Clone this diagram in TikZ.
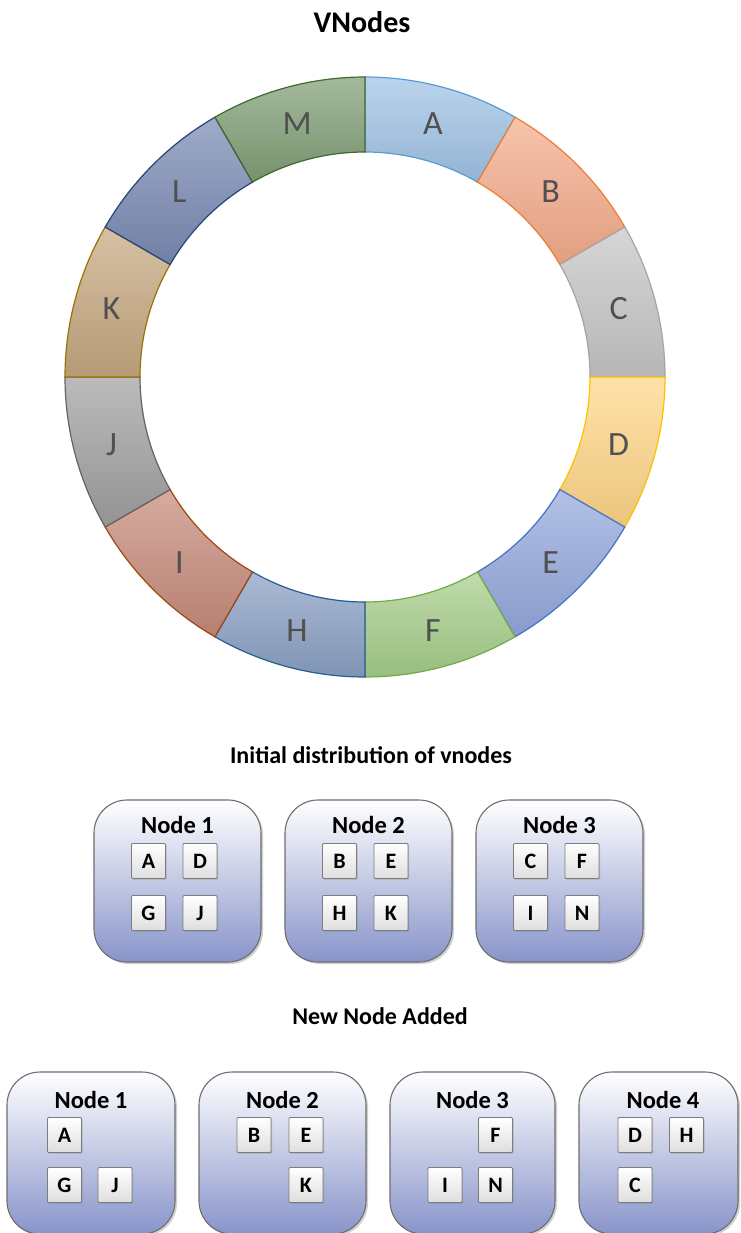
\documentclass[tikz,border=0pt]{standalone}
\usepackage{fontspec}
\setmainfont{Carlito}
\usetikzlibrary{shadows}
\definecolor{fillA}{RGB}{160,195,230}\definecolor{lineA}{RGB}{91,155,213}
\definecolor{fillB}{RGB}{245,172,140}\definecolor{lineB}{RGB}{237,125,49}
\definecolor{fillC}{RGB}{198,198,198}\definecolor{lineC}{RGB}{165,165,165}
\definecolor{fillD}{RGB}{255,214,135}\definecolor{lineD}{RGB}{255,192,0}
\definecolor{fillE}{RGB}{148,168,220}\definecolor{lineE}{RGB}{68,114,196}
\definecolor{fillF}{RGB}{166,206,138}\definecolor{lineF}{RGB}{112,173,71}
\definecolor{fillH}{RGB}{138,160,196}\definecolor{lineH}{RGB}{37,94,145}
\definecolor{fillI}{RGB}{198,138,122}\definecolor{lineI}{RGB}{158,72,14}
\definecolor{fillJ}{RGB}{160,160,160}\definecolor{lineJ}{RGB}{99,99,99}
\definecolor{fillK}{RGB}{198,168,128}\definecolor{lineK}{RGB}{153,115,0}
\definecolor{fillL}{RGB}{122,138,180}\definecolor{lineL}{RGB}{38,68,120}
\definecolor{fillM}{RGB}{128,158,118}\definecolor{lineM}{RGB}{67,104,43}
\definecolor{seglab}{RGB}{80,80,80}
\definecolor{boxblue}{RGB}{136,148,202}
\definecolor{boxmid}{RGB}{212,216,236}
\definecolor{boxline}{RGB}{110,110,110}
\definecolor{vline}{RGB}{125,125,125}
\definecolor{vbot}{RGB}{222,222,222}
\tikzset{
  seglabel/.style={text=seglab, font=\fontsize{34}{34}\selectfont},
  heading/.style={font=\bfseries\fontsize{24}{24}\selectfont, text=black},
  maintitle/.style={font=\bfseries\fontsize{30}{30}\selectfont, text=black},
  bigbox/.style={draw=boxline, line width=1.1pt, rounded corners=33pt,
    top color=white, middle color=boxmid, bottom color=boxblue,
    minimum height=162pt, inner sep=0pt,
    drop shadow={shadow xshift=2pt, shadow yshift=-2pt, opacity=0.3, fill=black!60}},
  ntitle/.style={font=\bfseries\fontsize{24.5}{24.5}\selectfont, text=black},
  vbox/.style={draw=vline, line width=0.9pt, rounded corners=1pt,
    top color=white, bottom color=vbot, minimum width=34pt, minimum height=35pt,
    inner sep=0pt, font=\bfseries\fontsize{22}{22}\selectfont,
    drop shadow={shadow xshift=1.2pt, shadow yshift=-1.2pt, opacity=0.3, fill=black!60}}
}
\begin{document}
\begin{tikzpicture}[x=1pt,y=-1pt]
\useasboundingbox (0,0) rectangle (740,1233);
\fill[white] (0,0) rectangle (740,1233);

\node[maintitle] (title) at (362,22) {VNodes};

\begin{scope}[shift={(365,377)}, y=1pt]
\foreach \a/\lab in {90/A,60/B,30/C,0/D,-30/E,-60/F,-90/H,-120/I,-150/J,180/K,150/L,120/M} {
  \pgfmathsetmacro\b{\a-30}
  \pgfmathsetmacro\m{\a-15}
  \draw[draw=line\lab, line width=1.2pt, top color=fill\lab!72!white, bottom color=fill\lab!92!black]
    (\a:300) arc[start angle=\a, end angle=\b, radius=300]
    -- (\b:225) arc[start angle=\b, end angle=\a, radius=225] -- cycle;
  \node[seglabel] (seg\lab) at (\m:262.5) {\lab};
}
\end{scope}

\node[heading] (initial) at (371,755) {Initial distribution of vnodes};

% Row 1
\node[bigbox, minimum width=167pt] (r1n1) at (177.5,881) {};
\node[bigbox, minimum width=167pt] (r1n2) at (368.5,881) {};
\node[bigbox, minimum width=167pt] (r1n3) at (559.5,881) {};
\node[ntitle] (r1t1) at (177.5,825) {Node 1};
\node[ntitle] (r1t2) at (368.5,825) {Node 2};
\node[ntitle] (r1t3) at (559.5,825) {Node 3};
\node[vbox] (r1A) at (148.5,861) {A};
\node[vbox] (r1D) at (200,861) {D};
\node[vbox] (r1G) at (148.5,913) {G};
\node[vbox] (r1J) at (200,913) {J};
\node[vbox] (r1B) at (339.5,861) {B};
\node[vbox] (r1E) at (391,861) {E};
\node[vbox] (r1H) at (339.5,913) {H};
\node[vbox] (r1K) at (391,913) {K};
\node[vbox] (r1C) at (530.5,861) {C};
\node[vbox] (r1F) at (582,861) {F};
\node[vbox] (r1I) at (530.5,913) {I};
\node[vbox] (r1N) at (582,913) {N};

\node[heading] (added) at (380,1016) {New Node Added};

% Row 2
\node[bigbox, minimum width=168pt] (r2n1) at (91,1153) {};
\node[bigbox, minimum width=167pt] (r2n2) at (282.5,1153) {};
\node[bigbox, minimum width=165pt] (r2n3) at (472.5,1153) {};
\node[bigbox, minimum width=159pt] (r2n4) at (658.5,1153) {};
\node[ntitle] (r2t1) at (91,1100) {Node 1};
\node[ntitle] (r2t2) at (282.5,1100) {Node 2};
\node[ntitle] (r2t3) at (472.5,1100) {Node 3};
\node[ntitle] (r2t4) at (663,1100) {Node 4};
\node[vbox] (r2A) at (64.5,1135) {A};
\node[vbox] (r2G) at (64.5,1185) {G};
\node[vbox] (r2J) at (115,1185) {J};
\node[vbox] (r2B) at (254,1135) {B};
\node[vbox] (r2E) at (306,1135) {E};
\node[vbox] (r2K) at (306,1185) {K};
\node[vbox] (r2F) at (495.5,1135) {F};
\node[vbox] (r2I) at (445,1185) {I};
\node[vbox] (r2N) at (495.5,1185) {N};
\node[vbox] (r2D) at (635,1135) {D};
\node[vbox] (r2H) at (686.5,1135) {H};
\node[vbox] (r2C) at (635,1185) {C};
\end{tikzpicture}
\end{document}
